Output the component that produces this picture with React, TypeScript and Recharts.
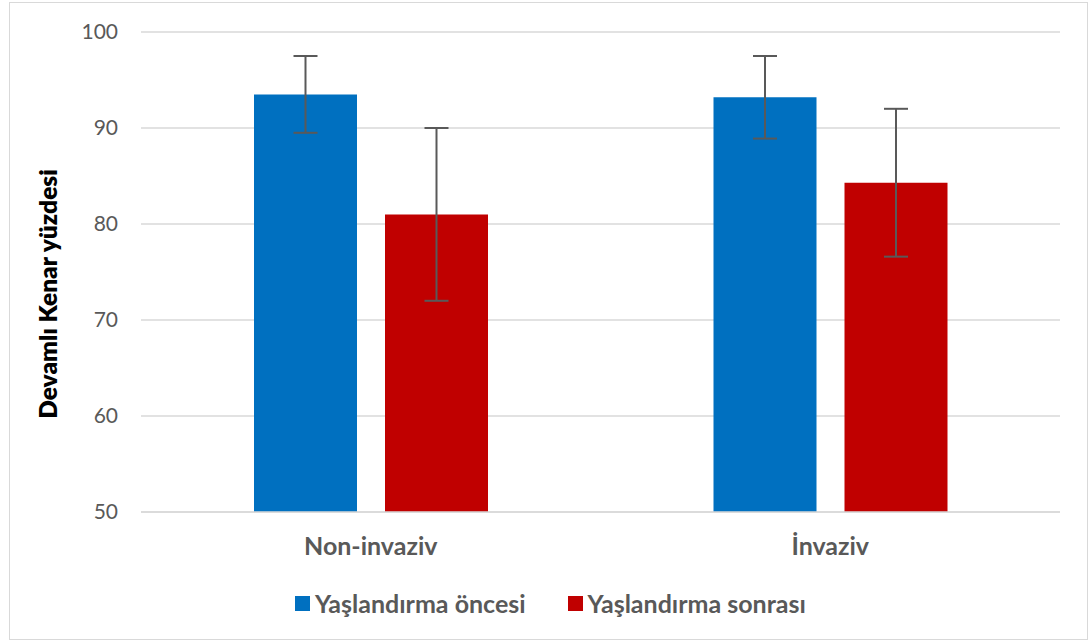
import { BarChart, Bar, XAxis, YAxis, CartesianGrid, ErrorBar, Legend, Label } from "recharts";

const groups = ["Non-invaziv", "İnvaziv"];
const before = [93.5, 93.2];
const beforeErr = [4.0, 4.3];
const after = [81.0, 84.3];
const afterErr = [9.0, 7.7];
const yTicks = [50, 60, 70, 80, 90, 100];
const seriesNames = ["Yaşlandırma öncesi", "Yaşlandırma sonrası"];

const BLUE = "#0070C0";
const RED = "#C00000";
const GREY = "#595959";
const FONT = "Lato, 'Open Sans', sans-serif";

const data = groups.map((g, i) => ({
  name: g,
  before: before[i],
  beforeErr: beforeErr[i],
  after: after[i],
  afterErr: afterErr[i],
}));

function LegendBox({ payload }: any) {
  // keep the series order instead of recharts' alphabetical sort
  const items = [...(payload || [])].sort(
    (a: any, b: any) => seriesNames.indexOf(a.value) - seriesNames.indexOf(b.value)
  );
  return (
    <div
      style={{
        height: 40,
        display: "flex",
        justifyContent: "flex-start",
        alignItems: "center",
        gap: 42,
        fontFamily: FONT,
        fontWeight: 700,
        fontSize: 25,
        color: GREY,
        paddingLeft: 286,
      }}
    >
      {items.map((p: any) => (
        <div key={p.value} style={{ display: "flex", alignItems: "center", gap: 5 }}>
          <span style={{ width: 15, height: 15, background: p.color, display: "inline-block" }} />
          <span>{p.value}</span>
        </div>
      ))}
    </div>
  );
}

export default function App() {
  return (
    <div
      style={{
        position: "absolute",
        left: 9,
        top: 2,
        width: 1079,
        height: 638,
        border: "1px solid #d9d9d9",
        boxSizing: "border-box",
        background: "#fff",
      }}
    >
      <BarChart
        width={1079}
        height={638}
        data={data}
        margin={{ top: 30, right: 28, left: 0, bottom: 17 }}
        barGap={28}
        barSize={103}
        style={{ position: "absolute", left: -1, top: -1 }}
      >
        <CartesianGrid vertical={false} stroke="#d9d9d9" strokeWidth={1.5} />
        <XAxis
          dataKey="name"
          height={71}
          axisLine={{ stroke: "#d9d9d9", strokeWidth: 1.5 }}
          tickLine={false}
          tickSize={0}
          tickMargin={25}
          tick={{ fill: GREY, fontSize: 25, fontWeight: 700, fontFamily: FONT }}
        />
        <YAxis
          domain={[50, 100]}
          ticks={yTicks}
          width={132}
          axisLine={false}
          tickLine={false}
          tickSize={0}
          tickMargin={23}
          tick={{ fill: GREY, fontSize: 21, fontFamily: FONT }}
        >
          <Label
            value="Devamlı Kenar yüzdesi"
            angle={-90}
            position="insideLeft"
            offset={39}
            dy={22}
            style={{ fill: "#000", fontSize: 24.5, fontWeight: 800, fontFamily: FONT, textAnchor: "middle" }}
          />
        </YAxis>
        <Legend verticalAlign="bottom" content={<LegendBox />} />
        <Bar dataKey="before" name={seriesNames[0]} fill={BLUE} isAnimationActive={false}>
          <ErrorBar dataKey="beforeErr" width={12} strokeWidth={2} stroke={GREY} />
        </Bar>
        <Bar dataKey="after" name={seriesNames[1]} fill={RED} isAnimationActive={false}>
          <ErrorBar dataKey="afterErr" width={12} strokeWidth={2} stroke={GREY} />
        </Bar>
      </BarChart>
    </div>
  );
}
